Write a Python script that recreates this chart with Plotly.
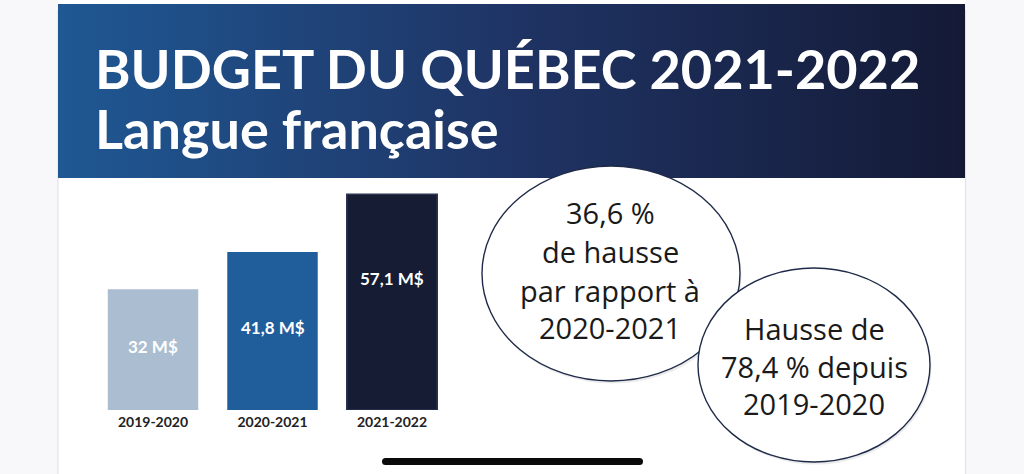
import plotly.graph_objects as go

# ---- data ----
categories = ["2019-2020", "2020-2021", "2021-2022"]
budget_values = [32.0, 41.8, 57.1]
value_labels = ["32 M$", "41,8 M$", "57,1 M$"]
title_line1 = "BUDGET DU QUÉBEC 2021-2022"
title_line2 = "Langue française"
bubble1_lines = ["36,6 %", "de hausse", "par rapport à", "2020-2021"]
bubble2_lines = ["Hausse de", "78,4 % depuis", "2019-2020"]

# ---- styling ----
W, H = 1024, 474
bar_colors = ["#abbdd0", "#1f5e9b", "#161c33"]
FONT = "Lato"
BODY_FONT = "Open Sans"

# pixel layout (from top-left)
plot_left, plot_right = 93.25, 451.75
baseline_px = 410
px_per_unit = 3.777
y_max = 70
label_y_px = [346, 327, 278]

fig = go.Figure()

fig.add_trace(go.Bar(
    x=categories, y=budget_values,
    marker=dict(color=bar_colors,
                line=dict(color=["#abbdd0", "#1f5e9b", "#2b3452"], width=[0, 0, 1.5])),
    width=0.757, hoverinfo="x+y", showlegend=False,
    xaxis="x", yaxis="y",
))

# header gradient band (pixel-space overlay axes)
fig.add_trace(go.Scatter(
    x=[58, 965, 965, 58, 58], y=[4, 4, 178, 178, 4],
    mode="lines", fill="toself", line=dict(width=0),
    fillgradient=dict(type="horizontal",
                      colorscale=[[0, "#1f5893"], [0.5, "#1f3465"], [1, "#141a36"]]),
    hoverinfo="skip", showlegend=False, xaxis="x2", yaxis="y2",
))

y_bottom = (H - baseline_px) / H
y_top = (H - baseline_px + px_per_unit * y_max) / H

fig.update_layout(
    width=W, height=H,
    margin=dict(l=0, r=0, t=0, b=0),
    paper_bgcolor="#f8f8fa",
    plot_bgcolor="rgba(0,0,0,0)",
    xaxis=dict(domain=[plot_left / W, plot_right / W], range=[-0.5, 2.5],
               type="category", showgrid=False, zeroline=False, showline=False,
               ticks="", ticklabelstandoff=2,
               tickfont=dict(family=FONT, size=14, color="#222222", weight=700),
               anchor="y", fixedrange=True),
    yaxis=dict(domain=[y_bottom, y_top], range=[0, y_max], visible=False,
               anchor="x", fixedrange=True),
    xaxis2=dict(domain=[0, 1], range=[0, W], visible=False, anchor="y2", fixedrange=True),
    yaxis2=dict(domain=[0, 1], range=[H, 0], visible=False, anchor="x2", fixedrange=True),
)

shapes = []
# white card
shapes.append(dict(type="rect", xref="paper", yref="paper", x0=58 / W, x1=965 / W, y0=0, y1=1,
                   fillcolor="white", line=dict(width=0), layer="below"))
for xe in (58, 965.5):
    shapes.append(dict(type="line", xref="paper", yref="paper", x0=xe / W, x1=xe / W, y0=0, y1=0.98,
                       line=dict(color="#e3e3e8", width=1.2), layer="below"))

# bubbles with soft shadow
def bubble(x0, y0, x1, y1):
    shapes.append(dict(type="circle", xref="x2", yref="y2", x0=x0 + 1.5, x1=x1 + 1.5, y0=y0 + 2.5, y1=y1 + 2.5,
                       fillcolor="rgba(0,0,0,0.08)", line=dict(width=0), layer="above"))
    shapes.append(dict(type="circle", xref="x2", yref="y2", x0=x0, x1=x1, y0=y0, y1=y1,
                       fillcolor="white", line=dict(color="#1e2a48", width=1.4), layer="above"))

bubble(482, 166, 740, 381)
bubble(698, 268, 930, 462)

# home indicator
shapes.append(dict(type="path", xref="x2", yref="y2",
                   path="M 385.5 458 L 639.5 458 Q 643 458 643 461.5 Q 643 465 639.5 465 "
                        "L 385.5 465 Q 382 465 382 461.5 Q 382 458 385.5 458 Z",
                   fillcolor="#0a0a0a", line=dict(width=0), layer="above"))
fig.update_layout(shapes=shapes)

ann = []
# header titles
ann.append(dict(xref="x2", yref="y2", x=93, y=68, text=title_line1, showarrow=False,
                xanchor="left", yanchor="middle",
                font=dict(family=FONT, size=54, color="white", weight=700)))
ann.append(dict(xref="x2", yref="y2", x=93, y=128, text=title_line2, showarrow=False,
                xanchor="left", yanchor="middle",
                font=dict(family=FONT, size=54, color="white", weight=700)))
# bar value labels
for cat, lab, ypx in zip(categories, value_labels, label_y_px):
    ann.append(dict(xref="x", yref="y2", x=cat, y=ypx, text=lab, showarrow=False,
                    xanchor="center", yanchor="middle",
                    font=dict(family=FONT, size=17, color="white", weight=700)))
# bubble texts
for line, ypx in zip(bubble1_lines, [212, 251, 290, 327]):
    ann.append(dict(xref="x2", yref="y2", x=610, y=ypx, text=line, showarrow=False,
                    xanchor="center", yanchor="middle",
                    font=dict(family=BODY_FONT, size=29, color="#1a1a1a")))
for line, ypx in zip(bubble2_lines, [328, 366, 403]):
    ann.append(dict(xref="x2", yref="y2", x=814, y=ypx, text=line, showarrow=False,
                    xanchor="center", yanchor="middle",
                    font=dict(family=BODY_FONT, size=29, color="#1a1a1a")))
fig.update_layout(annotations=ann)

fig.write_html("out.html",
               config={"displayModeBar": False},
               post_script="document.body.style.margin='0';document.body.style.overflow='hidden';")
